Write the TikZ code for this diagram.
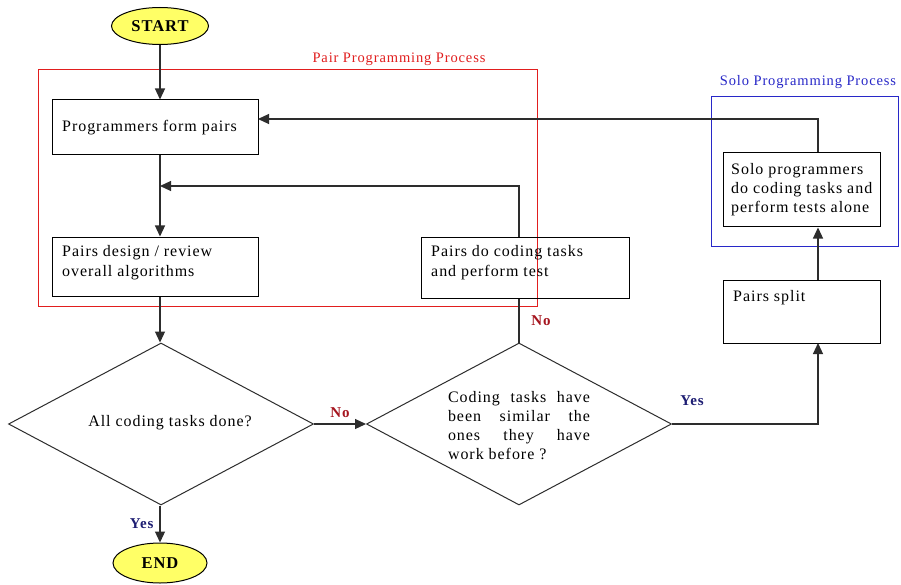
\documentclass[tikz,border=0pt]{standalone}
\usepackage{fontspec}
\setmainfont{Liberation Serif}[LetterSpace=6]
\usetikzlibrary{shapes.geometric,arrows.meta}
\definecolor{termfill}{RGB}{255,255,102}
\definecolor{pairred}{RGB}{225,30,30}
\definecolor{solob}{RGB}{40,40,200}
\definecolor{nored}{RGB}{165,20,30}
\definecolor{yesblue}{RGB}{30,30,115}
\definecolor{conn}{RGB}{45,45,45}
\begin{document}
\begin{tikzpicture}[x=1pt,y=-1pt,
  every node/.style={font=\fontsize{16}{20}\selectfont, inner sep=0pt},
  term/.style={ellipse, draw=black, line width=1pt, fill=termfill, font=\fontsize{16.5}{18}\selectfont\bfseries},
  pbox/.style={draw=black, line width=1pt, rectangle},
  frame/.style={draw, line width=1pt, rectangle},
  dec/.style={diamond, draw=conn, line width=1pt, aspect=1.9},
  txt/.style={anchor=west, align=left},
  lbl/.style={font=\fontsize{14.5}{16}\selectfont},
  no/.style={font=\fontsize{15}{16}\selectfont\bfseries, text=nored},
  yes/.style={font=\fontsize{15}{16}\selectfont\bfseries, text=yesblue},
  arr/.style={draw=conn, line width=1.2pt, -{Triangle[length=11pt,width=10pt]}},
  ln/.style={draw=conn, line width=1.2pt}]
\useasboundingbox (0,0) rectangle (901,585);
\fill[white] (0,0) rectangle (901,585);

% frames
\node[frame, draw=pairred, minimum width=499pt, minimum height=236pt] (pairframe) at (287.5,188) {};
\node[lbl, text=pairred] (pairlbl) at (399,59) {Pair Programming Process};
\node[frame, draw=solob, minimum width=187pt, minimum height=149pt] (soloframe) at (804.5,171.5) {};
\node[lbl, text=solob] (sololbl) at (808,82) {Solo Programming Process};

% terminals
\node[term, minimum width=97pt, minimum height=37pt] (start) at (160,26) {START};
\node[term, minimum width=94pt, minimum height=40pt] (end) at (160,563) {END};

% boxes
\node[pbox, minimum width=206pt, minimum height=55pt] (form) at (155,127.5) {};
\node[txt] (formt) at (62,128) {Programmers form pairs};
\node[pbox, minimum width=206pt, minimum height=59pt] (design) at (155,266.5) {};
\node[txt] (designt) at (62,263) {Pairs design / review\\overall algorithms};
\node[pbox, minimum width=208pt, minimum height=61pt] (codep) at (525,267.5) {};
\node[txt] (codept) at (431,263) {Pairs do coding tasks\\and perform test};
\node[pbox, minimum width=157pt, minimum height=74pt] (solo) at (801.5,190) {};
\node[txt, font=\fontsize{16}{19}\selectfont] (solot) at (731,190) {Solo programmers\\do coding tasks and\\perform tests alone};
\node[pbox, minimum width=157pt, minimum height=63pt] (split) at (801.5,311.5) {};
\node[txt] (splitt) at (733,298) {Pairs split};

% decisions
\node[dec, minimum width=305pt, minimum height=162pt] (d1) at (161,424) {};
\node (d1t) at (170,423) {All coding tasks done?};
\node[dec, minimum width=305pt, minimum height=162pt] (d2) at (519,424) {};
\node[align=left, font=\fontsize{16}{19}\selectfont] (d2t) at (519,426)
  {\makebox[142pt][s]{Coding tasks have}\\\makebox[142pt][s]{been similar the}\\\makebox[142pt][s]{ones they have}\\work before ?};

% coordinates
\coordinate (j1) at (160,186);
\coordinate (fe) at (258,119);
\coordinate (sx) at (818,343);

% connectors
\draw[arr] (start.south) -- (start.south |- form.north);
\draw[arr] (start.south |- form.south) -- (start.south |- design.north);
\draw[arr] (start.south |- design.south) -- (d1.north -| start.south);
\draw[arr] (d1.south -| end.north) -- node[yes, left, xshift=-6pt] (yes1) {Yes} (end.north);
\draw[arr] (d1.east) -- node[no, above, yshift=6pt] (no1) {No} (d2.west);
\draw[ln] (d2.north) -- (d2.north |- codep.south);
\node[no] (no2) at (541,321) {No};
\draw[arr] (d2.north |- codep.north) |- (j1);
\draw[arr] (d2.east) -| (sx);
\node[yes] (yes2) at (692,401) {Yes};
\draw[arr] (split.north -| sx) -- (solo.south -| sx);
\draw[arr] (solo.north -| sx) |- (fe);
\end{tikzpicture}
\end{document}
